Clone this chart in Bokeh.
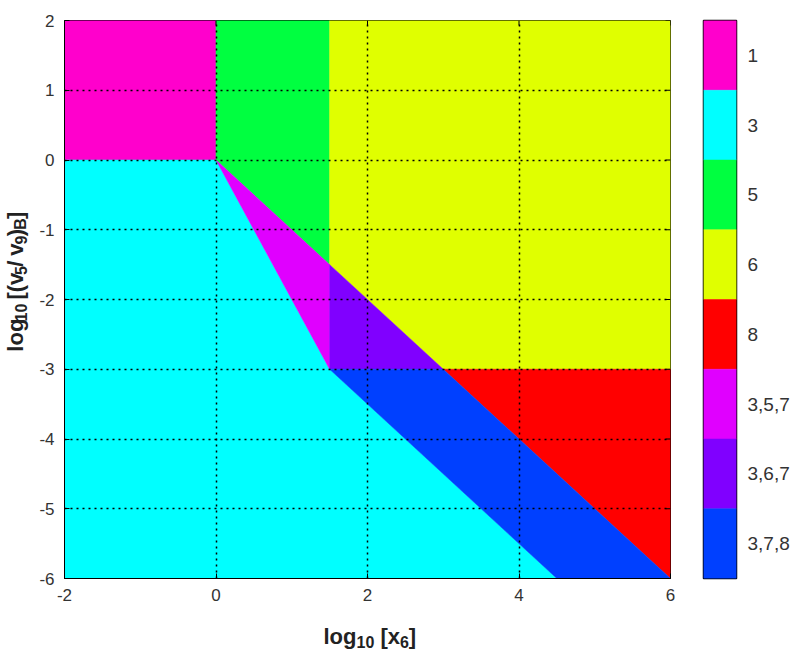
import math
from bokeh.plotting import figure
from bokeh.models import ColumnDataSource, FixedTicker, LinearAxis, Range1d
from bokeh.core.properties import value
from bokeh.layouts import row, column
from bokeh.embed import file_html
from bokeh.resources import INLINE

# ---------------- data ----------------
region_names = ["1", "3", "5", "6", "8", "3,5,7", "3,6,7", "3,7,8"]
region_colors = ["#ff00cc", "#00ffff", "#00ff40", "#e0ff00", "#ff0000",
                 "#e000ff", "#8000ff", "#0040ff"]
region_xs = [
    [-2, 0, 0, -2],
    [-2, 0, 1.5, 4.5, -2],
    [0, 1.5, 1.5, 0],
    [1.5, 6, 6, 3, 1.5],
    [3, 6, 6],
    [0, 1.5, 1.5],
    [1.5, 3, 1.5],
    [1.5, 3, 6, 4.5],
]
region_ys = [
    [0, 0, 2, 2],
    [0, 0, -3, -6, -6],
    [2, 2, -1.5, 0],
    [2, 2, -3, -3, -1.5],
    [-3, -3, -6],
    [0, -1.5, -3],
    [-1.5, -3, -3],
    [-3, -3, -6, -6],
]
x_ticks = [-2, 0, 2, 4, 6]
y_ticks = [-6, -5, -4, -3, -2, -1, 0, 1, 2]
x_tick_labels = ["-2", "0", "2", "4", "6"]
y_tick_labels = ["-6", "-5", "-4", "-3", "-2", "-1", "0", "1", "2"]

x_title = [("log", False), ("10", True), (" [x", False), ("6", True), ("]", False)]
y_title = [("log", False), ("10", True), (" [(v", False), ("5", True), ("/", False),
           (" v", False), ("9", True), (")", False), ("B", True), ("]", False)]

FONT = "Liberation Sans"
TICK_COLOR = "#333333"
TITLE_COLOR = "#222222"
MAIN, SUB, SUBDROP = 22, 16, 5

# width estimates (Arial Bold metrics, per 1000 em)
W = {"l": 278, "o": 611, "g": 611, " ": 278, "[": 333, "]": 333, "x": 556,
     "(": 333, ")": 333, "v": 556, "/": 278, "B": 722}


def tw(s, size):
    return sum(W.get(c, 556) for c in s) * size / 1000.0


def layout_title(pieces, start):
    """Return (positions, texts, sizes, is_sub) advancing along the text line."""
    pos, out = start, []
    for s, sub in pieces:
        size = SUB if sub else MAIN
        lead = len(s) - len(s.lstrip(" "))
        pos += tw(" " * lead, size)
        body = s.lstrip(" ")
        out.append((pos, body, f"{size}px", sub))
        pos += tw(body, size)
    return out


ROW_H = 610
YLAB_W = 36
MAIN_W = 642
CB_W = 114

# ---------------- main plot ----------------
p = figure(width=MAIN_W, height=ROW_H, x_range=Range1d(-2, 6), y_range=Range1d(-6, 2),
           output_backend="svg", toolbar_location=None,
           min_border_left=28, min_border_right=8, min_border_top=18,
           min_border_bottom=32)
p.outline_line_color = "black"
p.outline_line_width = 1

src = ColumnDataSource(dict(xs=region_xs, ys=region_ys, color=region_colors,
                            name=region_names))
p.patches("xs", "ys", source=src, fill_color="color", line_color="color",
          line_width=0.5)

for ax in (p.xaxis[0], p.yaxis[0]):
    ax.major_tick_in = 5
    ax.major_tick_out = 0
    ax.minor_tick_line_color = None
    ax.axis_line_color = "black"
    ax.major_tick_line_color = "black"
    ax.major_label_text_font = FONT
    ax.major_label_text_font_size = "17px"
    ax.major_label_text_color = TICK_COLOR
    ax.major_label_standoff = 10
p.xaxis.ticker = FixedTicker(ticks=x_ticks)
p.yaxis.ticker = FixedTicker(ticks=y_ticks)
p.xaxis.major_label_overrides = dict(zip(x_ticks, x_tick_labels))
p.yaxis.major_label_overrides = dict(zip(y_ticks, y_tick_labels))

# mirrored inner ticks on top and right edges
p.ray(x=x_ticks, y=p.y_range.end, length=5, length_units="screen",
      angle=-math.pi / 2, line_color="black", line_width=1)
p.ray(x=p.x_range.end, y=y_ticks, length=5, length_units="screen",
      angle=math.pi, line_color="black", line_width=1)

p.xgrid.ticker = FixedTicker(ticks=x_ticks)
p.ygrid.ticker = FixedTicker(ticks=y_ticks)
for g in (p.xgrid[0], p.ygrid[0]):
    g.grid_line_color = "black"
    g.grid_line_dash = "2 4"
    g.grid_line_width = 1.5
    g.level = "overlay"

# ---------------- y title strip ----------------
ylab = figure(width=YLAB_W, height=ROW_H, x_range=Range1d(0, YLAB_W),
              y_range=Range1d(0, ROW_H), output_backend="svg",
              toolbar_location=None, x_axis_location=None, y_axis_location=None,
              min_border=0)
ylab.outline_line_color = None
ylab.grid.visible = False
yt = layout_title(y_title, 248.0)
ylab.text(x=[15 + (SUBDROP if sub else 0) for _, _, _, sub in yt],
          y=[pp for pp, _, _, _ in yt], text=[t for _, t, _, _ in yt],
          text_font_size=[sz for _, _, sz, _ in yt], angle=math.pi / 2,
          text_font=value(FONT), text_font_style="bold", text_color=TITLE_COLOR,
          text_baseline="alphabetic", text_align="left")

# ---------------- colour bar ----------------
n = len(region_names)
cb = figure(width=CB_W, height=ROW_H, x_range=Range1d(0, 1), y_range=Range1d(0, n),
            output_backend="svg", toolbar_location=None,
            min_border_left=25, min_border_right=CB_W - 25 - 41, min_border_top=20,
            min_border_bottom=28)
cb.outline_line_color = "black"
cb.outline_line_width = 1.5
cb.quad(left=0, right=1, bottom=[n - 1 - i for i in range(n)],
        top=[n - i for i in range(n)], fill_color=region_colors,
        line_color=region_colors, line_width=0.5)
cb.xaxis.visible = False
cb.yaxis.visible = False
cb.grid.visible = False
centers = [n - 0.5 - i for i in range(n)]
cb_axis = LinearAxis(ticker=FixedTicker(ticks=centers),
                     major_label_overrides=dict(zip(centers, region_names)),
                     major_tick_line_color=None, minor_tick_line_color=None,
                     axis_line_color=None, major_label_text_font=FONT,
                     major_label_text_font_size="19px",
                     major_label_text_color=TICK_COLOR, major_label_standoff=5)
cb.add_layout(cb_axis, "right")

# ---------------- x title strip ----------------
TOTAL_W = YLAB_W + MAIN_W + CB_W
XLAB_H = 46
xlab = figure(width=TOTAL_W, height=XLAB_H, x_range=Range1d(0, TOTAL_W),
              y_range=Range1d(0, XLAB_H), output_backend="svg",
              toolbar_location=None, x_axis_location=None, y_axis_location=None,
              min_border=0)
xlab.outline_line_color = None
xlab.grid.visible = False
xt = layout_title(x_title, 323.0)
xlab.text(x=[pp for pp, _, _, _ in xt],
          y=[20 - (SUBDROP if sub else 0) for _, _, _, sub in xt],
          text=[t for _, t, _, _ in xt], text_font_size=[sz for _, _, sz, _ in xt],
          text_font=value(FONT), text_font_style="bold", text_color=TITLE_COLOR,
          text_baseline="alphabetic", text_align="left")

layout = column(row(ylab, p, cb), xlab)
open("out.html", "w").write(file_html(layout, INLINE))
